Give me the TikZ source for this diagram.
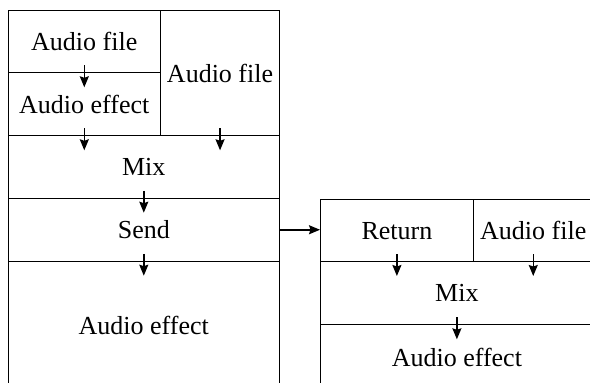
\documentclass[tikz,border=0pt]{standalone}
\usepackage{fontspec}
\setmainfont{Liberation Serif}
\usetikzlibrary{arrows.meta}
\begin{document}
\begin{tikzpicture}[x=1pt,y=-1pt,
  box/.style={draw,line width=1.1pt,inner sep=0pt,anchor=north west,font=\fontsize{26}{30}\selectfont},
  flow/.style={-{Stealth[length=11pt,width=9pt,inset=1.5pt]},line width=1.5pt}]
\useasboundingbox (0,0) rectangle (590,383);
\clip (0,0) rectangle (590,383);
\node[box,minimum width=152.5pt,minimum height=62.3pt] (file1) at (7.5,10) {Audio file};
\node[box,minimum width=152.5pt,minimum height=63pt] (effect1) at (7.5,72.3) {Audio effect};
\node[box,minimum width=119pt,minimum height=125.3pt] (file2) at (160,10) {Audio file};
\node[box,minimum width=271.5pt,minimum height=62.4pt] (mix1) at (7.5,135.3) {Mix};
\node[box,minimum width=271.5pt,minimum height=63pt] (send) at (7.5,197.7) {Send};
\node[box,minimum width=271.5pt,minimum height=129pt] (effect2) at (7.5,260.7) {Audio effect};
\node[box,minimum width=152.7pt,minimum height=61.7pt] (ret) at (320,199.3) {Return};
\node[box,minimum width=120pt,minimum height=61.7pt] (file3) at (472.7,199.3) {Audio file};
\node[box,minimum width=272.7pt,minimum height=63.3pt] (mix2) at (320,261) {Mix};
\node[box,minimum width=272.7pt,minimum height=65pt] (effect3) at (320,324.3) {Audio effect};
\draw[flow] ([yshift=8pt]file1.south) -- ([yshift=-15pt]effect1.north);
\draw[flow] ([yshift=8pt]effect1.south) -- ([yshift=-15pt]mix1.north -| effect1.south);
\draw[flow] ([yshift=8pt]file2.south) -- ([yshift=-15pt]mix1.north -| file2.south);
\draw[flow] ([yshift=8pt]mix1.south) -- ([yshift=-15pt]send.north);
\draw[flow] ([yshift=8pt]send.south) -- ([yshift=-15pt]effect2.north);
\draw[flow] (send.east) -- (send.east -| ret.west);
\draw[flow] ([yshift=8pt]ret.south) -- ([yshift=-15pt]mix2.north -| ret.south);
\draw[flow] ([yshift=8pt]file3.south) -- ([yshift=-15pt]mix2.north -| file3.south);
\draw[flow] ([yshift=8pt]mix2.south) -- ([yshift=-15pt]effect3.north);
\end{tikzpicture}
\end{document}
